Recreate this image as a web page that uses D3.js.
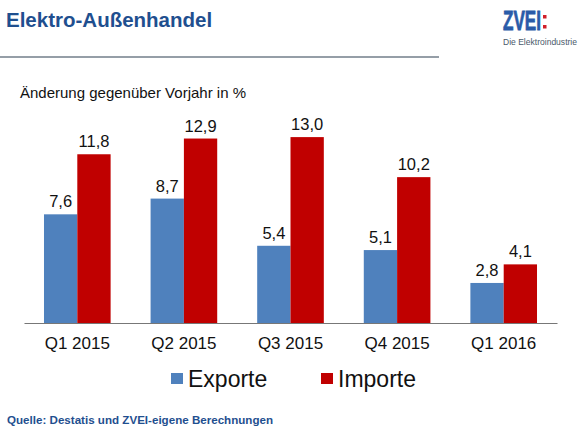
<!DOCTYPE html>
<html>
<head>
<meta charset="utf-8">
<script src="https://cdn.jsdelivr.net/npm/d3@7"></script>
<style>
  body { margin: 0; background: #fff; }
  text { font-family: Arial, "Liberation Sans", sans-serif; }
</style>
</head>
<body>
<div id="chart"></div>
<script>
const quarters = ["Q1 2015", "Q2 2015", "Q3 2015", "Q4 2015", "Q1 2016"];
const exporte = [7.6, 8.7, 5.4, 5.1, 2.8];
const importe = [11.8, 12.9, 13.0, 10.2, 4.1];
const seriesNames = ["Exporte", "Importe"];

const width = 580, height = 435;
const colors = { Exporte: "#4f81bd", Importe: "#c00000" };

const svg = d3.select("#chart").append("svg")
    .attr("width", width)
    .attr("height", height);

// title + rule
svg.append("text")
    .attr("x", 6).attr("y", 27)
    .style("font-size", "20.5px")
    .style("font-weight", "bold")
    .attr("fill", "#1f4f8f")
    .text("Elektro-Außenhandel");

svg.append("line")
    .attr("x1", 0).attr("x2", 439)
    .attr("y1", 57).attr("y2", 57)
    .attr("stroke", "#2c3e50")
    .attr("stroke-width", 1.2);

// logo
svg.append("text")
    .attr("x", 503).attr("y", 30)
    .attr("textLength", 38)
    .attr("lengthAdjust", "spacingAndGlyphs")
    .style("font-size", "27px")
    .style("font-weight", "bold")
    .attr("fill", "#2a5ba8")
    .attr("stroke", "#2a5ba8")
    .attr("stroke-width", 0.8)
    .text("ZVEI");
svg.append("rect").attr("x", 543).attr("y", 15).attr("width", 3.5).attr("height", 3.5).attr("fill", "#d0202a");
svg.append("rect").attr("x", 543).attr("y", 25).attr("width", 3.5).attr("height", 3.5).attr("fill", "#d0202a");
svg.append("text")
    .attr("x", 503).attr("y", 45)
    .attr("textLength", 74)
    .attr("lengthAdjust", "spacingAndGlyphs")
    .style("font-size", "9px")
    .attr("fill", "#4a5a6a")
    .text("Die Elektroindustrie");

// subtitle
svg.append("text")
    .attr("x", 20).attr("y", 98)
    .style("font-size", "15px")
    .attr("fill", "#111")
    .text("Änderung gegenüber Vorjahr in %");

// scales
const x0 = d3.scaleBand()
    .domain(quarters)
    .range([24, 557])
    .paddingInner(0.375)
    .paddingOuter(0.1875);

const x1 = d3.scaleBand()
    .domain(seriesNames)
    .range([0, x0.bandwidth()]);

const y = d3.scaleLinear()
    .domain([0, 14])
    .range([323, 323 - 14 * 14.3]);

const rows = quarters.map((q, i) => ({
    q,
    vals: [
        { name: "Exporte", value: exporte[i] },
        { name: "Importe", value: importe[i] }
    ]
}));

const groups = svg.append("g").selectAll("g")
    .data(rows)
    .enter()
    .append("g")
    .attr("transform", d => `translate(${x0(d.q)},0)`);

groups.selectAll("rect")
    .data(d => d.vals)
    .enter()
    .append("rect")
    .attr("x", d => x1(d.name))
    .attr("y", d => y(d.value))
    .attr("width", x1.bandwidth())
    .attr("height", d => y(0) - y(d.value))
    .attr("fill", d => colors[d.name]);

groups.selectAll("text")
    .data(d => d.vals)
    .enter()
    .append("text")
    .attr("x", d => x1(d.name) + x1.bandwidth() / 2)
    .attr("y", d => y(d.value) - 7)
    .attr("text-anchor", "middle")
    .style("font-size", "16.5px")
    .attr("fill", "#111")
    .text(d => d3.format(".1f")(d.value).replace(".", ","));

// x axis
const xAxis = svg.append("g")
    .attr("transform", `translate(0,${y(0)})`)
    .call(d3.axisBottom(x0).tickSize(0).tickPadding(14));
xAxis.select(".domain").attr("stroke", "#777").attr("stroke-width", 1.2);
xAxis.selectAll("text")
    .style("font-size", "17px")
    .style("font-family", "Arial, 'Liberation Sans', sans-serif")
    .attr("fill", "#111");

// legend
const legendX = { Exporte: 171, Importe: 321 };
const legend = svg.append("g");
legend.selectAll("rect")
    .data(seriesNames)
    .enter()
    .append("rect")
    .attr("x", d => legendX[d])
    .attr("y", 373)
    .attr("width", 12)
    .attr("height", 11)
    .attr("fill", d => colors[d]);
legend.selectAll("text")
    .data(seriesNames)
    .enter()
    .append("text")
    .attr("x", d => legendX[d] + 17)
    .attr("y", 387)
    .style("font-size", "23px")
    .attr("fill", "#111")
    .text(d => d);

// source
svg.append("text")
    .attr("x", 7).attr("y", 424)
    .style("font-size", "11.6px")
    .style("font-weight", "bold")
    .attr("fill", "#1f4f8f")
    .text("Quelle: Destatis und ZVEI-eigene Berechnungen");
</script>
</body>
</html>
